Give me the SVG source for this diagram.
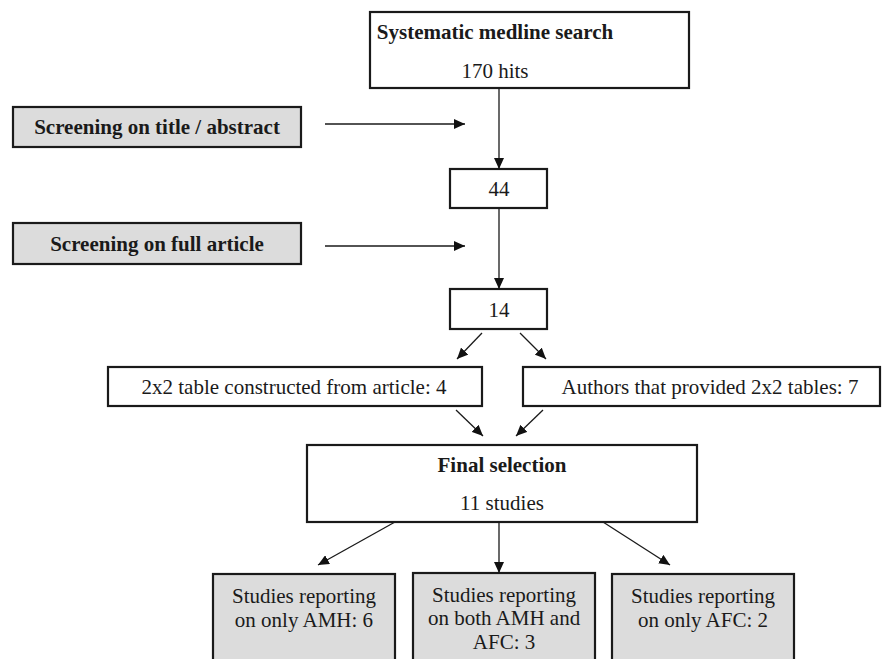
<svg xmlns="http://www.w3.org/2000/svg" width="883" height="659" viewBox="0 0 883 659">
<defs>
<marker id="ah" markerUnits="userSpaceOnUse" markerWidth="12" markerHeight="10" refX="11" refY="5" orient="auto">
<path d="M0,0 L11,5 L0,10 Z" fill="#111"/>
</marker>
<style>
.box{fill:#fff;stroke:#1a1a1a;stroke-width:2.2}
.gray{fill:#dcdcdc;stroke:#1a1a1a;stroke-width:2.2}
.t{font-family:"Liberation Serif","Times New Roman",serif;font-size:21px;fill:#1a1a1a;text-anchor:middle}
.b{font-weight:bold}
.c{stroke:#1a1a1a;stroke-width:1.3;fill:none;marker-end:url(#ah)}
.l{stroke:#1a1a1a;stroke-width:1.3;fill:none}
</style>
</defs>
<rect width="883" height="659" fill="#fff"/>
<g id="search">
<rect class="box" x="370" y="12" width="319" height="76"/>
<text class="t b" x="495" y="39">Systematic medline search</text>
<text class="t" x="495" y="78">170 hits</text>
</g>
<g id="screen1">
<rect class="gray" x="13" y="107" width="288" height="40"/>
<text class="t b" x="157" y="134">Screening on title / abstract</text>
</g>
<g id="n44">
<rect class="box" x="450" y="169" width="97" height="39"/>
<text class="t" x="499" y="196">44</text>
</g>
<g id="screen2">
<rect class="gray" x="13" y="223" width="288" height="41"/>
<text class="t b" x="157" y="251">Screening on full article</text>
</g>
<g id="n14">
<rect class="box" x="450" y="289" width="97" height="40"/>
<text class="t" x="499" y="317">14</text>
</g>
<g id="constructed">
<rect class="box" x="108" y="367" width="374" height="39"/>
<text class="t" x="294" y="394">2x2 table constructed from article: 4</text>
</g>
<g id="authors">
<rect class="box" x="523" y="367" width="357" height="39"/>
<text class="t" x="710" y="394">Authors that provided 2x2 tables: 7</text>
</g>
<g id="final">
<rect class="box" x="307" y="445" width="390" height="77"/>
<text class="t b" x="502" y="472">Final selection</text>
<text class="t" x="502" y="510">11 studies</text>
</g>
<g id="amh">
<rect class="gray" x="213" y="574" width="182" height="100"/>
<text class="t" x="304" y="603">Studies reporting</text>
<text class="t" x="304" y="627">on only AMH: 6</text>
</g>
<g id="both">
<rect class="gray" x="413" y="573" width="182" height="100"/>
<text class="t" x="504" y="602">Studies reporting</text>
<text class="t" x="504" y="625">on both AMH and</text>
<text class="t" x="504" y="649">AFC: 3</text>
</g>
<g id="afc">
<rect class="gray" x="612" y="574" width="182" height="100"/>
<text class="t" x="703" y="603">Studies reporting</text>
<text class="t" x="703" y="627">on only AFC: 2</text>
</g>
<g id="connectors">
<line class="c" x1="499" y1="88" x2="499" y2="169"/>
<line class="c" x1="325" y1="124" x2="465" y2="124"/>
<line class="c" x1="499" y1="208" x2="499" y2="289"/>
<line class="c" x1="325" y1="246" x2="465" y2="246"/>
<line class="c" x1="482" y1="333" x2="457" y2="359"/>
<line class="c" x1="520" y1="333" x2="546" y2="359"/>
<line class="c" x1="456" y1="410" x2="483" y2="436"/>
<line class="c" x1="543" y1="410" x2="516" y2="436"/>
<line class="c" x1="395" y1="522" x2="318" y2="565"/>
<line class="c" x1="499" y1="522" x2="499" y2="573"/>
<line class="c" x1="603" y1="522" x2="670" y2="565"/>
</g>
</svg>
